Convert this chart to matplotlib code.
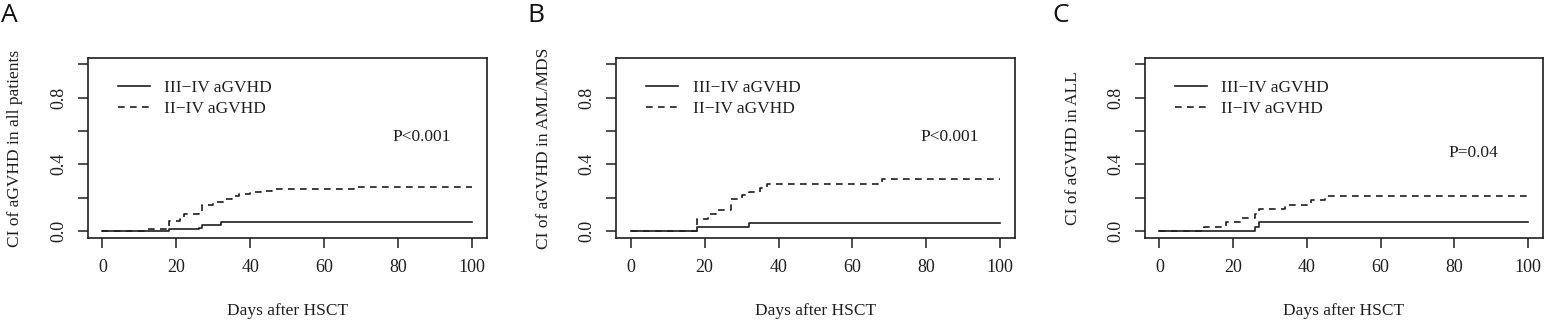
import matplotlib
matplotlib.use("Agg")
import matplotlib.pyplot as plt

# cumulative incidence step data (day of jump, value after jump)
a_days_34 = [0, 18, 26, 27, 32, 100]
a_ci_34 = [0, 0.012, 0.018, 0.035, 0.052, 0.052]
a_days_24 = [0, 12, 18, 21, 22, 26, 27, 30, 33, 35, 37, 40, 43, 46, 68, 100]
a_ci_24 = [0, 0.012, 0.062, 0.075, 0.104, 0.115, 0.155, 0.176, 0.19, 0.21,
           0.222, 0.232, 0.242, 0.252, 0.262, 0.262]

b_days_34 = [0, 18, 32, 100]
b_ci_34 = [0, 0.025, 0.05, 0.05]
b_days_24 = [0, 18, 21, 23, 27, 30, 32, 35, 37, 68, 100]
b_ci_24 = [0, 0.07, 0.105, 0.125, 0.19, 0.215, 0.236, 0.256, 0.284, 0.31, 0.31]

c_days_34 = [0, 26, 27, 100]
c_ci_34 = [0, 0.024, 0.053, 0.053]
c_days_24 = [0, 12, 18, 22, 26, 27, 34, 41, 45, 100]
c_ci_24 = [0, 0.027, 0.055, 0.08, 0.105, 0.13, 0.157, 0.184, 0.212, 0.212]

panel_letters = ["A", "B", "C"]
ylabels = ["CI of aGVHD in all patients", "CI of aGVHD in AML/MDS",
           "CI of aGVHD in ALL"]
pvalues = ["P<0.001", "P<0.001", "P=0.04"]
p_pos = [(86.4, 0.566), (86.3, 0.566), (85.3, 0.466)]
legend_labels = ["III\u2212IV aGVHD", "II\u2212IV aGVHD"]

series = [
    (a_days_34, a_ci_34, a_days_24, a_ci_24),
    (b_days_34, b_ci_34, b_days_24, b_ci_24),
    (c_days_34, c_ci_34, c_days_24, c_ci_24),
]

W, H = 1544, 322
# axes boxes in pixels: left, right ; top/bottom shared
boxes = [(87.7, 486.7), (616.0, 1015.0), (1144.7, 1542.7)]
top_px, bot_px = 57.7, 237.7
ylabel_x = [15, 544, 1073]
letter_x = [1, 527, 1052]

plt.rcParams['font.family'] = ['Liberation Serif', 'DejaVu Serif']
ink = '#1e1e1e'

fig = plt.figure(figsize=(W / 100, H / 100), dpi=100)

for i in range(3):
    left, right = boxes[i]
    ax = fig.add_axes([left / W, (H - bot_px) / H, (right - left) / W,
                       (bot_px - top_px) / H])
    d34, v34, d24, v24 = series[i]
    l1, = ax.step(d34, v34, where='post', color=ink, lw=1.2,
                  label=legend_labels[0])
    l2, = ax.step(d24, v24, where='post', color=ink, lw=1.2,
                  dashes=(4.0, 3.2), label=legend_labels[1])

    ax.set_xlim(-4, 104)
    ax.set_ylim(-0.04, 1.04)
    ax.set_xticks([0, 20, 40, 60, 80, 100])
    ax.set_yticks([0, 0.2, 0.4, 0.6, 0.8, 1.0])
    ax.set_yticklabels(["0.0", "", "0.4", "", "0.8", ""], rotation=90,
                       va='center')
    ax.tick_params(direction='out', length=7.5, width=1.1, color=ink,
                   labelsize=13, labelcolor=ink)
    ax.tick_params(axis='x', pad=8)
    ax.tick_params(axis='y', pad=7)
    for s in ax.spines.values():
        s.set_linewidth(1.2)
        s.set_color(ink)

    ax.set_xlabel("Days after HSCT", fontsize=12.5, color=ink, labelpad=19)
    fig.text(ylabel_x[i] / W, 1 - 148 / H, ylabels[i], rotation=90,
             ha='center', va='center', fontsize=12.5, color=ink)
    ax.text(p_pos[i][0], p_pos[i][1], pvalues[i], ha='center', va='center',
            fontsize=12.5, color=ink)

    ax.legend(handles=[l1, l2], loc='upper left', frameon=False,
              bbox_to_anchor=(0.075, 0.875), borderaxespad=0, borderpad=0,
              handlelength=1.85, handletextpad=0.85, labelspacing=0.28,
              fontsize=12.5, labelcolor=ink)

    fig.text(letter_x[i] / W, 1 - 3 / H, panel_letters[i], ha='left',
             va='top', fontsize=19, family=['Open Sans', 'DejaVu Sans'],
             color='#111111')

fig.savefig("out.png", dpi=100)
